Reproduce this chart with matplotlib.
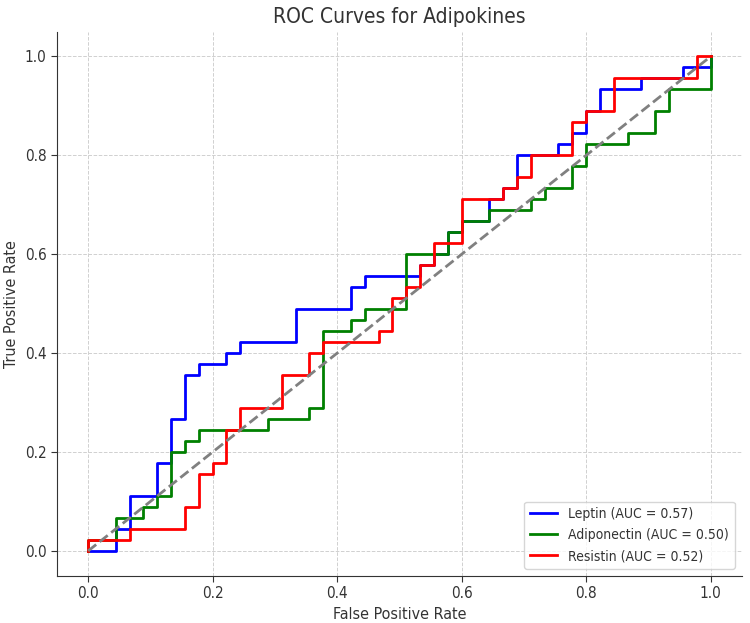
import numpy as np
import matplotlib
matplotlib.use('Agg')
import matplotlib.pyplot as plt

# ROC corner points, in counts (45 negatives, 45 positives)
n_neg = 45
n_pos = 45

leptin_fp = [0, 2, 2, 3, 3, 5, 5, 6, 6, 7, 7, 8, 8, 10, 10, 11, 11, 15, 15, 19, 19, 20, 20, 24, 24, 25, 25,
             26, 26, 27, 27, 29, 29, 30, 30, 31, 31, 34, 34, 35, 35, 36, 36, 37, 37, 40, 40, 43, 43, 45, 45]
leptin_tp = [0, 0, 2, 2, 5, 5, 8, 8, 12, 12, 16, 16, 17, 17, 18, 18, 19, 19, 22, 22, 24, 24, 25, 25, 26, 26,
             27, 27, 29, 29, 30, 30, 32, 32, 33, 33, 36, 36, 37, 37, 38, 38, 40, 40, 42, 42, 43, 43, 44, 44, 45]

adipo_fp = [0, 0, 2, 2, 4, 4, 5, 5, 6, 6, 7, 7, 8, 8, 13, 13, 16, 16, 17, 17, 19, 19, 20, 20, 23, 23, 26, 26,
            27, 27, 29, 29, 32, 32, 33, 33, 35, 35, 36, 36, 39, 39, 41, 41, 42, 42, 45, 45]
adipo_tp = [0, 1, 1, 3, 3, 4, 4, 5, 5, 9, 9, 10, 10, 11, 11, 12, 12, 13, 13, 20, 20, 21, 21, 22, 22, 27, 27, 29,
            29, 30, 30, 31, 31, 32, 32, 33, 33, 35, 35, 37, 37, 38, 38, 40, 40, 42, 42, 45]

resist_fp = [0, 0, 3, 3, 7, 7, 8, 8, 9, 9, 10, 10, 11, 11, 14, 14, 16, 16, 17, 17, 21, 21, 22, 22, 23, 23,
             24, 24, 25, 25, 27, 27, 30, 30, 31, 31, 32, 32, 35, 35, 36, 36, 38, 38, 44, 44, 45]
resist_tp = [0, 1, 1, 2, 2, 4, 4, 7, 7, 8, 8, 11, 11, 13, 13, 16, 16, 18, 18, 19, 19, 20, 20, 23, 23, 24,
             24, 26, 26, 28, 28, 32, 32, 33, 33, 34, 34, 36, 36, 39, 39, 40, 40, 43, 43, 45, 45]

names = ['Leptin', 'Adiponectin', 'Resistin']
aucs = [0.57, 0.50, 0.52]
colors = ['blue', 'green', 'red']

plt.rcParams['font.family'] = 'DejaVu Sans'
plt.rcParams['font.stretch'] = 'condensed'

fig = plt.figure(figsize=(7.5, 6.23), dpi=100)
ax = fig.add_axes([0.076, 0.076, 0.913, 0.873])

curves = [(leptin_fp, leptin_tp), (adipo_fp, adipo_tp), (resist_fp, resist_tp)]
for (fp, tp), name, auc, c in zip(curves, names, aucs, colors):
    fpr = np.array(fp) / n_neg
    tpr = np.array(tp) / n_pos
    ax.plot(fpr, tpr, color=c, lw=2, label='%s (AUC = %.2f)' % (name, auc))

ax.plot([0, 1], [0, 1], color='gray', lw=2, linestyle='--')

ax.set_title('ROC Curves for Adipokines', fontsize=15, color='#333333')
ax.set_xlabel('False Positive Rate', fontsize=11.5, color='#333333')
ax.set_ylabel('True Positive Rate', fontsize=11.5, color='#333333')
ax.tick_params(labelsize=11, colors='#333333', length=4)
ax.grid(True, linestyle='--', color='#d0d0d0', linewidth=0.7)
ax.spines['top'].set_visible(False)
ax.spines['right'].set_visible(False)
ax.spines['left'].set_color('#333333')
ax.spines['bottom'].set_color('#333333')
ax.legend(loc='lower right', fontsize=10, labelcolor='#333333')

fig.savefig('out.png', dpi=100)
